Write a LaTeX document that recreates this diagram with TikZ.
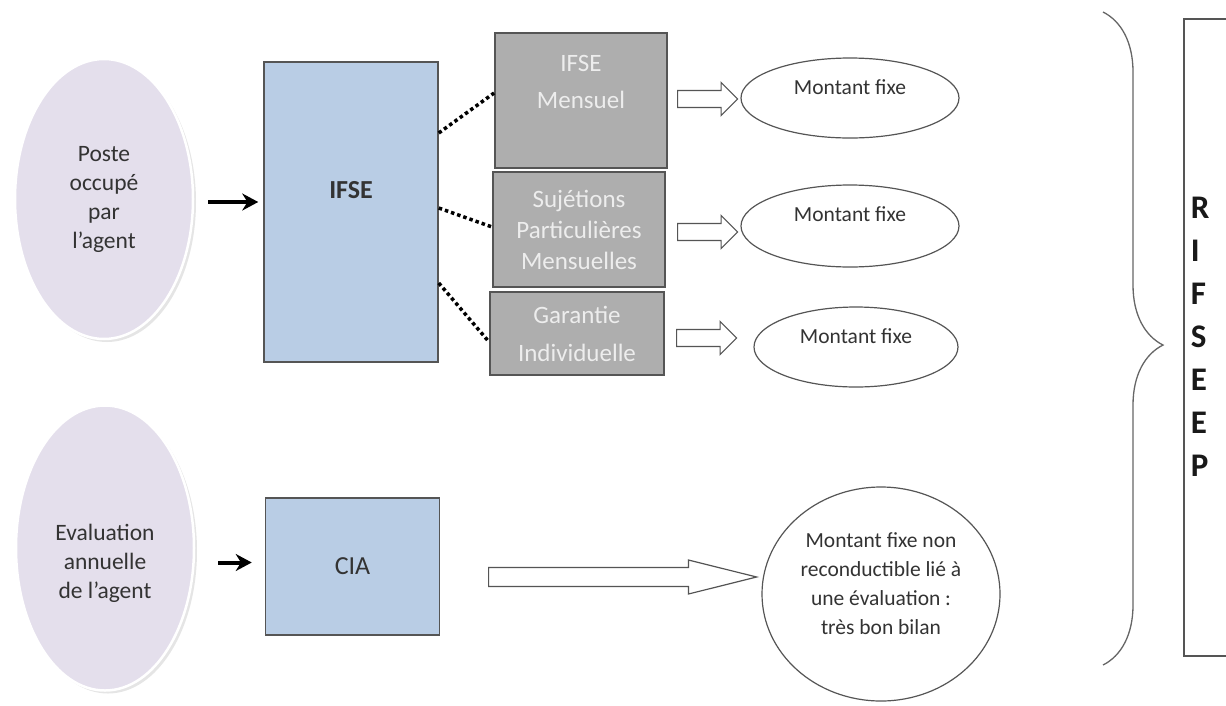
\documentclass[tikz,border=0pt]{standalone}
\usepackage{fontspec}
\setmainfont{Carlito}
\usetikzlibrary{arrows.meta,shapes.geometric,shapes.arrows,shadows,decorations.pathreplacing}

\definecolor{lavande}{HTML}{E4DFEC}
\definecolor{bleuclair}{HTML}{B9CDE5}
\definecolor{grisbloc}{HTML}{AEAEAE}
\definecolor{grisbord}{HTML}{555555}
\definecolor{texte}{HTML}{333333}

\tikzset{
  critere/.style={ellipse, fill=lavande, draw=white, line width=2.5pt, minimum width=178pt,
    drop shadow={shadow xshift=3pt, shadow yshift=-3pt, opacity=0.2},
    align=center, text=texte, font=\fontsize{23.5}{29}\selectfont},
  prime/.style={rectangle, fill=bleuclair, draw=grisbord, line width=1.5pt, minimum width=174pt,
    text=texte, font=\fontsize{26}{30}\selectfont},
  volet/.style={rectangle, fill=grisbloc, draw=grisbord, line width=1.8pt, minimum width=172pt,
    align=center, text=white!93!black, font=\fontsize{25}{31}\selectfont},
  montant/.style={ellipse, draw=grisbord, line width=1.2pt, align=center, text=texte,
    font=\fontsize{21.5}{29}\selectfont},
  fleche/.style={single arrow, draw=grisbord, fill=white, line width=1.2pt, inner xsep=0pt,
    inner ysep=7pt, single arrow head indent=0pt, minimum width=33pt, minimum height=60pt, anchor=tail},
  pointilles/.style={line width=3.5pt, dash pattern=on 3.5pt off 3pt},
}

\begin{document}
\begin{tikzpicture}[x=1pt,y=-1pt,>={Stealth[length=16pt,width=17pt]}]
  \fill[white] (0,0) rectangle (1226,705);
  \useasboundingbox (0,0) rectangle (1226,705);

  % partie IFSE
  \node[critere, minimum height=280pt] (poste) at (104,199) {Poste\\occupé\\par\\l’agent};
  \node[prime, minimum height=300pt, label={[yshift=22pt, text=texte, font=\fontsize{26}{30}\selectfont\bfseries]center:IFSE}] (ifse) at (351,212) {};

  \node[volet, minimum height=135pt, label={[anchor=north, yshift=-20pt, align=center, text=white!93!black, font=\fontsize{25}{31}\selectfont]north:IFSE\\[6pt]Mensuel}] (mensuel) at (581,100.5) {};
  \node[volet, minimum height=115pt] (sujetions) at (579,229.5) {Sujétions\\Particulières\\Mensuelles};
  \node[volet, minimum height=83pt, minimum width=174pt] (garantie) at (577,333.5) {Garantie\\[7pt]Individuelle};

  \node[fleche] (f1) at (677,99) {};
  \node[fleche] (f2) at (677,232) {};
  \node[fleche] (f3) at (676,338) {};

  \node[montant, minimum width=218pt, minimum height=80pt, text depth=21pt] (m1) at (850,98) {Montant fixe};
  \node[montant, minimum width=218pt, minimum height=82pt, text depth=24pt] (m2) at (850,226) {Montant fixe};
  \node[montant, minimum width=204pt, minimum height=80pt, text depth=21pt] (m3) at (856,347) {Montant fixe};

  \draw[->, line width=4pt, shorten <=14pt, shorten >=5pt] ([yshift=-3pt]poste.east) -- ([yshift=-3pt]poste.east -| ifse.west);
  \draw[pointilles] ([yshift=79pt]ifse.east) -- ([yshift=7.5pt]mensuel.west);
  \draw[pointilles] ([yshift=4pt]ifse.east) -- ([yshift=2.5pt]sujetions.west);
  \draw[pointilles] ([yshift=-71pt]ifse.east) -- ([yshift=-8.5pt]garantie.west);

  % partie CIA
  \node[critere, minimum height=285pt, text height=105pt] (evaluation) at (105,548) {Evaluation\\annuelle\\de l’agent};
  \node[prime, minimum height=137pt] (cia) at (352.5,566.5) {CIA};
  \node[fleche, inner ysep=8.5pt, minimum width=34pt, minimum height=268pt, single arrow tip angle=28] (f4) at (488,577) {};
  \node[montant, minimum width=238pt, minimum height=214pt, text depth=20pt] (bilan) at (881,594)
    {Montant fixe non\\reconductible lié à\\une évaluation :\\très bon bilan};

  \draw[->, line width=4pt, shorten <=23pt, shorten >=13pt] ([yshift=4pt]cia.west -| evaluation.east) -- ([yshift=4pt]cia.west);

  % RIFSEEP
  \node[draw=grisbord, line width=1.5pt, anchor=north west, minimum height=637pt, text width=80pt,
    inner xsep=7pt, align=left, text=black!90, font=\fontsize{33}{43}\selectfont\bfseries] (rifseep) at (1183,18)
    {R\\I\\F\\S\\E\\E\\P};
  \coordinate (accolade haut) at (1103,12);
  \coordinate (accolade bas) at (1103,665);
  \draw[decorate, decoration={brace, amplitude=60pt, aspect=0.51}, draw=black!60, line width=1.3pt] (accolade haut) -- (accolade bas);
\end{tikzpicture}
\end{document}
